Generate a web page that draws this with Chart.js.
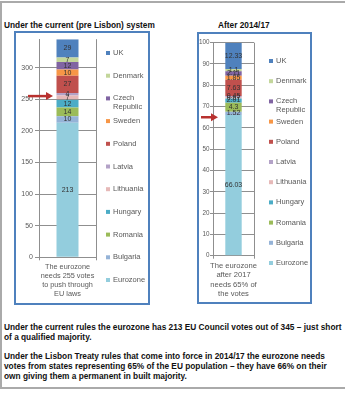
<!DOCTYPE html>
<html>
<head>
<meta charset="utf-8">
<script src="https://cdn.jsdelivr.net/npm/chart.js@4"></script>
<style>
body{margin:0;background:#fff;font-family:"Liberation Sans",Arial,sans-serif;}
#page{position:relative;width:347px;height:400px;overflow:hidden;background:#fff;}
.frame{position:absolute;left:0;top:1px;width:345px;height:388px;border-top:2px solid #aaa;border-left:2px solid #aaa;border-bottom:2px solid #aaa;box-sizing:border-box;}
.title{position:absolute;font-weight:bold;font-size:8.3px;color:#111;white-space:nowrap;line-height:10px;}
.box{position:absolute;border:2px solid #4f81bd;box-sizing:border-box;}
canvas{position:absolute;}
.note{position:absolute;left:4px;font-weight:bold;font-size:8.3px;line-height:10px;color:#111;white-space:nowrap;}
</style>
</head>
<body>
<div id="page">
  <div class="frame"></div>
  <div class="title" style="left:4px;top:20px;">Under the current (pre Lisbon) system</div>
  <div class="title" style="left:218px;top:20px;">After 2014/17</div>
  <div class="box" style="left:14px;top:31px;width:136px;height:274px;"></div>
  <div class="box" style="left:197px;top:32px;width:115px;height:272px;"></div>
  <canvas id="now" width="132" height="270" style="left:16px;top:33px;"></canvas>
  <canvas id="after" width="111" height="268" style="left:199px;top:34px;"></canvas>
  <div class="note" style="top:322px;">Under the current rules the eurozone has 213 EU Council votes out of 345 &ndash; just short<br>of a qualified majority.</div>
  <div class="note" style="top:351px;">Under the Lisbon Treaty rules that come into force in 2014/17 the eurozone needs<br>votes from states representing 65% of the EU population &ndash; they have 66% on their<br>own giving them a permanent in built majority.</div>
</div>
<script>
// stacked from the bottom up
const countries = ["Eurozone", "Bulgaria", "Romania", "Hungary", "Lithuania", "Latvia", "Poland", "Sweden", "Czech Republic", "Denmark", "UK"];
const colors = ["#93cddd", "#95b3d7", "#9bbb59", "#4bacc6", "#e6b9b8", "#b3a2c7", "#c0504d", "#f79646", "#8064a2", "#c3d69b", "#4f81bd"];
// council votes, current system
const votesNow = [213, 10, 14, 12, 7, 4, 27, 10, 12, 7, 29];
// share of votes (%), after 2014/17
const votesAfter = [66.03, 1.52, 4.3, 2.01, 0.67, 0.45, 7.63, 1.85, 2.11, 1.1, 12.33];
const categoryNow = ["The eurozone", "needs 255 votes", "to push through", "EU laws"];
const categoryAfter = ["The eurozone", "after 2017", "needs 65% of", "the votes"];
const thresholdNow = 255;
const thresholdAfter = 65;

Chart.defaults.font.family = "'Liberation Sans', Arial, sans-serif";
const gridColor = "#8f8f8f";
const textColor = "#595959";

function makeChart(id, values, catLabel, opt) {
  //draws segment values, the legend and the red arrow
  const overlay = {
    id: "overlay",
    afterDatasetsDraw(chart) {
      const ctx = chart.ctx;
      const area = chart.chartArea;
      const y = chart.scales.y;
      ctx.save();
      if (opt.overLine != null) {
        const ly = Math.round(y.getPixelForValue(opt.overLine)) + 0.5;
        ctx.strokeStyle = gridColor;
        ctx.lineWidth = 1;
        ctx.beginPath();
        ctx.moveTo(area.left, ly);
        ctx.lineTo(area.right, ly);
        ctx.stroke();
      }
      ctx.font = "7px 'Liberation Sans', Arial, sans-serif";
      ctx.fillStyle = "#333";
      ctx.textAlign = "center";
      ctx.textBaseline = "middle";
      chart.data.datasets.forEach((ds, i) => {
        const el = chart.getDatasetMeta(i).data[0];
        ctx.fillText(String(ds.data[0]), el.x, (el.y + el.base) / 2);
      });
      // legend, UK on top
      ctx.textAlign = "left";
      ctx.font = "7.5px 'Liberation Sans', Arial, sans-serif";
      const n = chart.data.datasets.length;
      for (let k = 0; k < n; k++) {
        const ds = chart.data.datasets[n - 1 - k];
        const ty = opt.legTop + k * opt.legStep;
        ctx.fillStyle = ds.backgroundColor;
        ctx.fillRect(opt.legX, ty - 2, 4, 4);
        ctx.fillStyle = textColor;
        const words = ds.label.split(" ");
        words.forEach((w, j) => ctx.fillText(w, opt.legX + 7, ty + j * 9));
      }
      // arrow at the threshold
      const ay = y.getPixelForValue(opt.threshold);
      ctx.strokeStyle = "#b8312f";
      ctx.fillStyle = "#b8312f";
      ctx.lineWidth = 2.5;
      ctx.beginPath();
      ctx.moveTo(opt.arrowFrom, ay);
      ctx.lineTo(opt.arrowTo - 6, ay);
      ctx.stroke();
      ctx.beginPath();
      ctx.moveTo(opt.arrowTo, ay);
      ctx.lineTo(opt.arrowTo - 7, ay - 4);
      ctx.lineTo(opt.arrowTo - 7, ay + 4);
      ctx.closePath();
      ctx.fill();
      ctx.restore();
    },
  };

  return new Chart(document.getElementById(id), {
    type: "bar",
    data: {
      labels: [catLabel],
      datasets: countries.map((c, i) => ({
        label: c,
        data: [values[i]],
        backgroundColor: colors[i],
        barPercentage: opt.barPct,
        categoryPercentage: 1,
      })),
    },
    options: {
      responsive: false,
      animation: false,
      layout: { padding: { top: opt.top, right: opt.right, left: 0, bottom: 0 } },
      plugins: { legend: { display: false }, tooltip: { enabled: false } },
      scales: {
        x: {
          stacked: true,
          grid: { color: gridColor, tickLength: 3 },
          border: { color: gridColor },
          ticks: {
            color: textColor,
            font: { size: opt.catSize, lineHeight: opt.catLH },
            maxRotation: 0,
            autoSkip: false,
            padding: opt.catPad,
          },
          afterFit: (s) => { s.height = opt.xh; },
        },
        y: {
          stacked: true,
          min: 0,
          max: opt.max,
          grid: { color: gridColor, tickLength: opt.tickLen },
          border: { color: gridColor },
          ticks: { stepSize: opt.step, includeBounds: false, color: textColor, font: { size: opt.tickSize }, padding: opt.tickPad },
          afterFit: (s) => { s.width = opt.yw; },
        },
      },
    },
    plugins: [overlay],
  });
}

makeChart("now", votesNow, categoryNow, {
  max: 345, step: 50, top: 5.6, right: 52, yw: 23, xh: 45.7,
  tickLen: 4, tickSize: 7, tickPad: 2,
  barPct: 0.386, catSize: 7.3, catLH: 1.25, catPad: 2,
  legX: 90, legTop: 20, legStep: 22.7,
  threshold: thresholdNow, arrowFrom: 12, arrowTo: 37, overLine: 250,
});
makeChart("after", votesAfter, categoryAfter, {
  max: 100, step: 10, top: 8.7, right: 56, yw: 14, xh: 46.3,
  tickLen: 3, tickSize: 6.3, tickPad: 0.5,
  barPct: 0.4, catSize: 7.6, catLH: 1.25, catPad: 2,
  legX: 70, legTop: 27, legStep: 20.2,
  threshold: thresholdAfter, arrowFrom: 2, arrowTo: 19, overLine: null,
});
</script>
</body>
</html>
